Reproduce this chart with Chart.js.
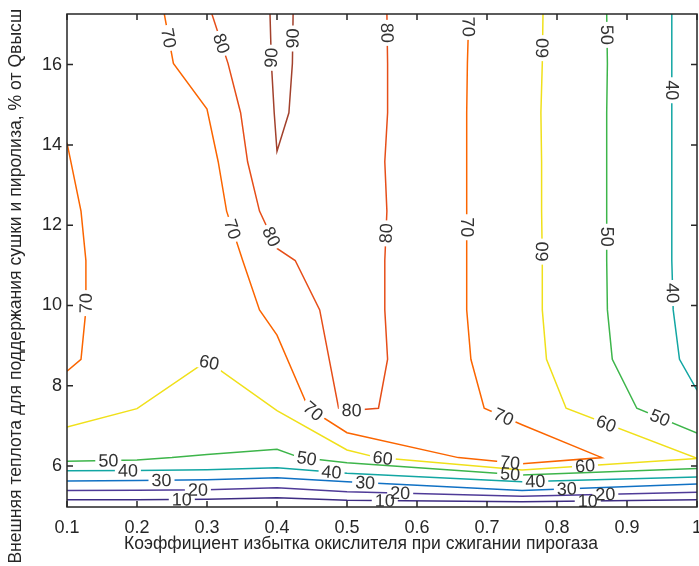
<!DOCTYPE html>
<html>
<head>
<meta charset="utf-8">
<script src="https://cdn.jsdelivr.net/npm/chart.js@4"></script>
<style>
  html, body { margin: 0; padding: 0; background: #fff; }
  canvas { display: block; }
</style>
</head>
<body>
<canvas id="chart" width="699" height="566"></canvas>
<script>
// Axis ticks
const xTicks = [0.1, 0.2, 0.3, 0.4, 0.5, 0.6, 0.7, 0.8, 0.9, 1.0];
const xTickLabels = ['0.1', '0.2', '0.3', '0.4', '0.5', '0.6', '0.7', '0.8', '0.9', '1'];
const yTicks = [6, 8, 10, 12, 14, 16];
const xRange = [0.1, 1.0];
const yRange = [4.98, 17.26];

const xTitle = 'Коэффициент избытка окислителя при сжигании пирогаза';
const yTitle = 'Внешняя теплота для поддержания сушки и пиролиза, % от Qвысш';

// Isolines, [alpha, Q] pairs
const c10 = [[0.1,5.16],[0.2,5.16],[0.3,5.17],[0.4,5.21],[0.5,5.15],[0.75,5.11],[1.0,5.16]];
const c20 = [[0.1,5.39],[0.2,5.40],[0.3,5.41],[0.4,5.46],[0.5,5.36],[0.75,5.25],[1.0,5.35]];
const c30 = [[0.1,5.63],[0.2,5.64],[0.3,5.66],[0.4,5.71],[0.5,5.61],[0.75,5.39],[1.0,5.55]];
const c40 = [[0.1,5.88],[0.2,5.89],[0.3,5.91],[0.4,5.96],[0.5,5.82],[0.75,5.61],[1.0,5.73]];
const c40b = [[0.964,17.26],[0.964,16.03],[0.964,14.80],[0.964,13.58],[0.964,12.35],[0.964,11.12],[0.966,9.89],[0.975,8.66],[1.0,7.89]];
const c50 = [[0.1,6.12],[0.2,6.15],[0.25,6.21],[0.3,6.29],[0.4,6.42],[0.433,6.21],[0.5,6.08],[0.75,5.78],[1.0,5.94]];
const c50b = [[0.871,17.26],[0.872,16.03],[0.871,14.80],[0.871,13.58],[0.871,12.35],[0.871,11.12],[0.872,9.89],[0.879,8.66],[0.914,7.44],[1.0,6.82]];
const c60 = [[0.1,6.97],[0.2,7.43],[0.3,8.62],[0.4,7.38],[0.5,6.40],[0.544,6.21],[0.75,5.90],[1.0,6.19]];
const c60b = [[0.780,17.26],[0.779,16.03],[0.777,14.80],[0.778,13.58],[0.778,12.35],[0.779,11.12],[0.779,9.89],[0.785,8.66],[0.813,7.44],[1.0,6.19]];
const c70a = [[0.1,14.05],[0.12,12.35],[0.127,11.12],[0.127,9.89],[0.12,8.66],[0.1,8.36]];
const c70b = [[0.239,17.26],[0.252,16.03],[0.3,14.89],[0.316,13.58],[0.328,12.35],[0.351,11.12],[0.375,9.89],[0.4,9.26],[0.445,7.44],[0.5,6.83],[0.659,6.21],[0.75,6.06],[0.864,6.21],[0.75,7.03],[0.696,7.44],[0.677,8.66],[0.671,9.89],[0.671,11.12],[0.671,12.35],[0.671,13.58],[0.671,14.80],[0.672,16.03],[0.674,17.26]];
const c80 = [[0.307,17.26],[0.330,16.03],[0.348,14.80],[0.358,13.58],[0.375,12.35],[0.4,11.42],[0.426,11.12],[0.461,9.89],[0.488,7.44],[0.5,7.38],[0.545,7.44],[0.558,8.66],[0.554,9.89],[0.554,11.12],[0.557,12.35],[0.554,13.58],[0.558,14.80],[0.558,16.03],[0.557,17.26]];
const c90 = [[0.39,17.26],[0.392,16.03],[0.396,14.80],[0.4,13.84],[0.417,14.80],[0.422,16.03],[0.423,17.26]];

// Where the level numbers sit on each isoline
const lab10 = [[0.264,5.14],[0.554,5.15],[0.844,5.07]];
const lab20 = [[0.287,5.39],[0.576,5.36],[0.869,5.28]];
const lab30 = [[0.235,5.65],[0.526,5.60],[0.814,5.49]];
const lab40 = [[0.187,5.90],[0.478,5.86],[0.769,5.61]];
const lab40b = [[0.964,15.36],[0.965,10.31]];
const lab50 = [[0.159,6.15],[0.442,6.13],[0.733,5.78]];
const lab50b = [[0.871,16.74],[0.871,11.71],[0.947,7.20]];
const lab60 = [[0.302,8.55],[0.551,6.18],[0.84,6.0]];
const lab60b = [[0.779,16.41],[0.779,11.34],[0.869,7.0]];
const lab70a = [[0.128,10.06]];
const lab70b = [[0.247,16.67],[0.333,11.88],[0.45,7.32],[0.733,6.08],[0.723,7.20],[0.669,11.95],[0.671,16.94]];
const lab80 = [[0.319,16.52],[0.392,11.71],[0.507,7.33],[0.557,16.79],[0.551,11.80]];
const lab90 = [[0.392,16.17],[0.423,16.65]];

const levelColors = {
  10: '#3d2c83', 20: '#4f3b98', 30: '#1071c4', 40: '#12a6a3', 50: '#3db54a',
  60: '#f0e01a', 70: '#fb6500', 80: '#e64e18', 90: '#a2412c'
};

// level, line, label spots, and reading direction of labels on near-vertical runs
// (1 = top to bottom, -1 = bottom to top, 0 = follow the line)
const lines = [
  [10, c10, lab10], [20, c20, lab20], [30, c30, lab30],
  [40, c40, lab40], [40, c40b, lab40b],
  [50, c50, lab50], [50, c50b, lab50b],
  [60, c60, lab60], [60, c60b, lab60b, [-1, -1, 0]],
  [70, c70a, lab70a], [70, c70b, lab70b, [0, 0, 0, 0, 0, 1, 1]],
  [80, c80, lab80], [90, c90, lab90, [-1, -1]]
];

const FONT = '"Liberation Sans", Arial, sans-serif';
const INK = '#262626';
const LABEL_SIZE = 18;

function toPx(chart, pts) {
  const xs = chart.scales.x, ys = chart.scales.y;
  return pts.map(p => [xs.getPixelForValue(p[0]), ys.getPixelForValue(p[1])]);
}

// snap each label onto its line and take the chord angle across the text
function placeLabels(chart, ds) {
  const ctx = chart.ctx;
  ctx.font = LABEL_SIZE + 'px ' + FONT;
  const path = toPx(chart, ds.points);
  const cum = [0];
  for (let i = 1; i < path.length; i++) {
    cum.push(cum[i - 1] + Math.hypot(path[i][0] - path[i - 1][0], path[i][1] - path[i - 1][1]));
  }
  const total = cum[cum.length - 1];
  const at = s => {
    s = Math.max(0, Math.min(total, s));
    let i = 1;
    while (i < path.length - 1 && cum[i] < s) i++;
    const seg = cum[i] - cum[i - 1] || 1;
    const t = (s - cum[i - 1]) / seg;
    return [path[i - 1][0] + t * (path[i][0] - path[i - 1][0]),
            path[i - 1][1] + t * (path[i][1] - path[i - 1][1])];
  };
  return toPx(chart, ds.labelAt).map((q, k) => {
    let best = { d: Infinity, s: 0 };
    for (let i = 1; i < path.length; i++) {
      const [ax, ay] = path[i - 1], [bx, by] = path[i];
      const vx = bx - ax, vy = by - ay;
      const len2 = vx * vx + vy * vy || 1;
      let t = ((q[0] - ax) * vx + (q[1] - ay) * vy) / len2;
      t = Math.max(0, Math.min(1, t));
      const d = Math.hypot(ax + t * vx - q[0], ay + t * vy - q[1]);
      if (d < best.d) best = { d, s: cum[i - 1] + t * Math.sqrt(len2) };
    }
    const text = String(ds.level);
    const w = ctx.measureText(text).width;
    const a = at(best.s - w / 2), b = at(best.s + w / 2);
    let ang = Math.atan2(b[1] - a[1], b[0] - a[0]);
    if (ang > Math.PI / 2) ang -= Math.PI;
    if (ang <= -Math.PI / 2) ang += Math.PI;
    const turn = ds.turn ? ds.turn[k] : 0;
    if (turn && Math.sign(ang) !== turn) ang = -ang;
    const c = at(best.s);
    return { x: c[0], y: c[1], ang, w, text };
  });
}

const contourLabels = {
  id: 'contourLabels',
  beforeDatasetDraw(chart, args) {
    const ds = chart.data.datasets[args.index];
    const ctx = chart.ctx;
    ds._placed = placeLabels(chart, ds);
    ctx.save();
    ctx.beginPath();
    ctx.rect(0, 0, chart.width, chart.height);
    ds._placed.forEach(l => {
      const hw = l.w / 2 + 3, hh = 7;
      const c = Math.cos(l.ang), s = Math.sin(l.ang);
      const corners = [[-hw, -hh], [hw, -hh], [hw, hh], [-hw, hh]]
        .map(([u, v]) => [l.x + u * c - v * s, l.y + u * s + v * c]);
      ctx.moveTo(corners[0][0], corners[0][1]);
      corners.slice(1).forEach(p => ctx.lineTo(p[0], p[1]));
      ctx.closePath();
    });
    ctx.clip('evenodd');
  },
  afterDatasetDraw(chart) {
    chart.ctx.restore();
  },
  afterDatasetsDraw(chart) {
    const ctx = chart.ctx;
    ctx.save();
    ctx.fillStyle = '#333';
    ctx.font = LABEL_SIZE + 'px ' + FONT;
    ctx.textAlign = 'center';
    ctx.textBaseline = 'middle';
    chart.data.datasets.forEach(ds => {
      (ds._placed || []).forEach(l => {
        ctx.save();
        ctx.translate(l.x, l.y);
        ctx.rotate(l.ang);
        ctx.fillText(l.text, 0, 1);
        ctx.restore();
      });
    });
    ctx.restore();
  }
};

// box with inward ticks, plus the axis titles
const frame = {
  id: 'frame',
  afterDraw(chart) {
    const { ctx, chartArea: a, scales: { x, y } } = chart;
    ctx.save();
    ctx.strokeStyle = INK;
    ctx.lineWidth = 1.5;
    ctx.strokeRect(a.left, a.top, a.right - a.left, a.bottom - a.top);
    ctx.beginPath();
    x.ticks.forEach(t => {
      const px = x.getPixelForValue(t.value);
      ctx.moveTo(px, a.bottom); ctx.lineTo(px, a.bottom - 6);
      ctx.moveTo(px, a.top); ctx.lineTo(px, a.top + 6);
    });
    y.ticks.forEach(t => {
      const py = y.getPixelForValue(t.value);
      ctx.moveTo(a.left, py); ctx.lineTo(a.left + 6, py);
      ctx.moveTo(a.right, py); ctx.lineTo(a.right - 6, py);
    });
    ctx.stroke();

    ctx.fillStyle = INK;
    ctx.font = '17.5px ' + FONT;
    ctx.textAlign = 'center';
    ctx.textBaseline = 'middle';
    ctx.fillText(xTitle, (a.left + a.right) / 2 - 21, a.bottom + 37);

    ctx.font = '17.6px ' + FONT;
    ctx.translate(16, 9);
    ctx.rotate(-Math.PI / 2);
    ctx.textAlign = 'right';
    ctx.fillText(yTitle, 0, 0);
    ctx.restore();
  }
};

// keep the plot box at a fixed place, whatever the edge tick labels need
function noEdgePadding(s) {
  s.paddingLeft = 0;
  s.paddingRight = 0;
  s.paddingTop = 0;
  s.paddingBottom = 0;
}

const datasets = lines.map(([level, pts, labs, turn]) => ({
  level,
  points: pts,
  labelAt: labs,
  turn,
  data: pts.map(p => ({ x: p[0], y: p[1] })),
  borderColor: levelColors[level],
  borderWidth: 1.5,
  pointRadius: 0,
  showLine: true,
  tension: 0,
  fill: false
}));

const ctx = document.getElementById('chart').getContext('2d');
const chart = new Chart(ctx, {
  type: 'scatter',
  data: { datasets },
  options: {
    responsive: false,
    animation: false,
    layout: { autoPadding: false, padding: { top: 14, right: 2, left: 0, bottom: 0 } },
    plugins: { legend: { display: false }, tooltip: { enabled: false } },
    scales: {
      x: {
        type: 'linear',
        min: xRange[0],
        max: xRange[1],
        afterBuildTicks: s => { s.ticks = xTicks.map(v => ({ value: v })); },
        afterFit: s => { s.height = 59; noEdgePadding(s); },
        grid: { display: false, drawTicks: false },
        border: { display: false },
        ticks: {
          padding: 10,
          maxRotation: 0,
          autoSkip: false,
          color: INK,
          font: { family: FONT, size: 18 },
          callback: (v, i) => xTickLabels[i]
        }
      },
      y: {
        type: 'linear',
        min: yRange[0],
        max: yRange[1],
        afterBuildTicks: s => { s.ticks = yTicks.map(v => ({ value: v })); },
        afterFit: s => { s.width = 67; noEdgePadding(s); },
        grid: { display: false, drawTicks: false },
        border: { display: false },
        ticks: {
          padding: 5,
          autoSkip: false,
          color: INK,
          font: { family: FONT, size: 18 },
          callback: v => String(v)
        }
      }
    }
  },
  plugins: [contourLabels, frame]
});
</script>
</body>
</html>
